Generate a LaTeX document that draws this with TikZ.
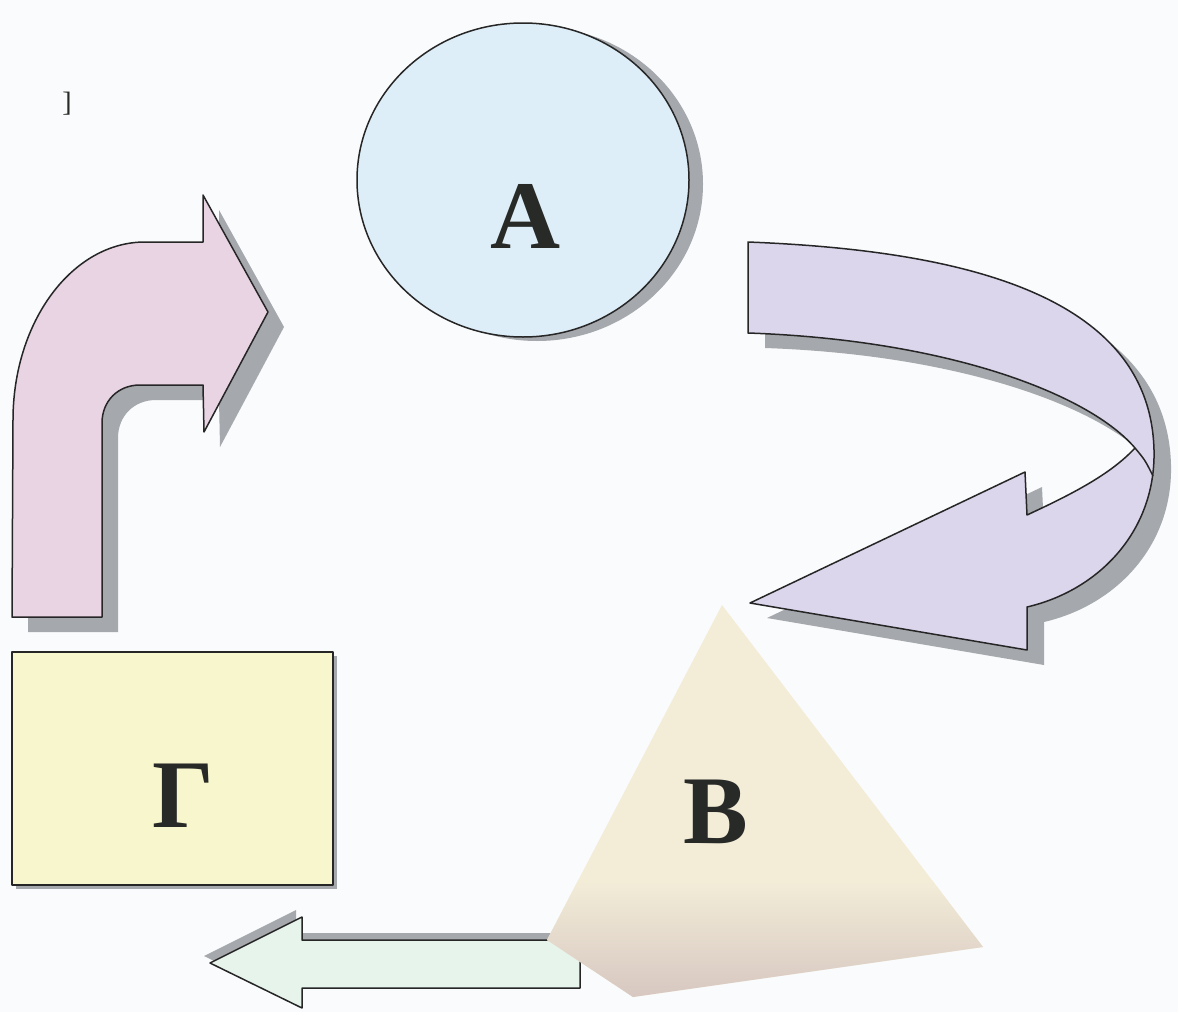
\documentclass[tikz,border=0pt]{standalone}
\usepackage{fontspec}
\setmainfont{Liberation Serif}
\definecolor{bgc}{RGB}{250,251,252}
\definecolor{pinkc}{RGB}{233,212,228}
\definecolor{lavc}{RGB}{220,214,236}
\definecolor{bluec}{RGB}{222,238,248}
\definecolor{yelc}{RGB}{248,246,204}
\definecolor{mintc}{RGB}{230,244,236}
\definecolor{shadc}{RGB}{165,168,172}
\definecolor{creamc}{RGB}{243,237,216}
\definecolor{brownc}{RGB}{214,198,192}
\definecolor{inkc}{RGB}{40,42,40}
\tikzset{
  outl/.style={draw=black!85, line width=1.5pt, line join=round},
  shad/.style={fill=shadc},
  bigletter/.style={anchor=base, inner sep=0pt, text=inkc, font=\fontsize{97}{97}\selectfont\bfseries},
}
\def\PinkArrow{(12,617) -- (13,420) .. controls (13,322) and (72,242) .. (145,242) -- (203,242) -- (203,195) -- (268,312) -- (204,432) -- (203,385) -- (140,385) .. controls (118,385) and (102,401) .. (102,423) -- (102,617) -- cycle}
\def\PurpleArrow{(748,242) .. controls (950,250) and (1150,290) .. (1154,450) .. controls (1156,530) and (1100,590) .. (1027,607) -- (1027,650) -- (750,603) -- (1025,472) -- (1027,515) .. controls (1070,495) and (1110,475) .. (1135,448) .. controls (1090,395) and (950,340) .. (748,333) -- cycle}
\def\GreenArrow{(210,963) -- (302,917) -- (302,940) -- (580,940) -- (580,988) -- (302,988) -- (302,1008) -- cycle}
\def\Pyramid{(722,605) -- (983,947) -- (633,997) -- (547,940) -- cycle}
\begin{document}
\begin{tikzpicture}[x=1pt,y=-1pt]
\fill[bgc] (0,0) rectangle (1178,1012);
\useasboundingbox (0,0) rectangle (1178,1012);
% stray bracket
\node[anchor=base, inner sep=0pt, text=inkc, font=\fontsize{28}{28}\selectfont] (br) at (67,111) {]};
% pink bent arrow
\fill[shad, shift={(16,15)}] \PinkArrow;
\path[outl, fill=pinkc] \PinkArrow;
% circle A
\fill[shad] (537,184) ellipse [x radius=166, y radius=157];
\path[outl, fill=bluec] (523,180) ellipse [x radius=166, y radius=157];
\node[bigletter] (la) at (526,248) {А};
% purple curved arrow
\fill[shad, shift={(17,15)}] \PurpleArrow;
\path[outl, fill=lavc] \PurpleArrow;
\draw[outl] (1135,448) .. controls (1145,460) .. (1153,476);
% rectangle G
\fill[shad] (16,656) rectangle (337,889);
\path[outl, fill=yelc] (12,652) rectangle (333,885);
\node[bigletter] (lg) at (183,827) {Г};
% green arrow
\fill[shad, shift={(-6,-7)}] \GreenArrow;
\path[outl, fill=mintc] \GreenArrow;
% pyramid B
\begin{scope}
  \clip \Pyramid;
  \fill[creamc] (540,600) rectangle (990,1000);
  \shade[top color=creamc, bottom color=brownc] (540,880) rectangle (990,1000);
\end{scope}
\node[bigletter] (lb) at (716,843) {В};
\end{tikzpicture}
\end{document}
